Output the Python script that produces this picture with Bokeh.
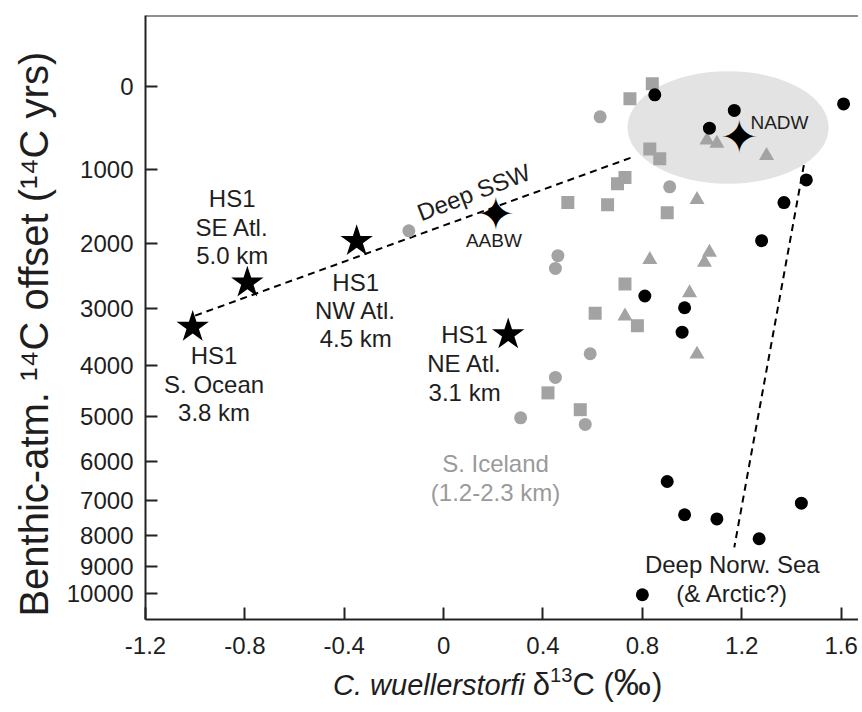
import numpy as np
from bokeh.plotting import figure
from bokeh.models import Range1d, FixedTicker, CustomJSTickFormatter, Span, Div
from bokeh.layouts import column
from bokeh.core.properties import value
from bokeh.embed import file_html
from bokeh.resources import INLINE

# ---------------- data (d13C in permil, benthic-atm 14C offset in 14C yrs) -------------
sq_d13c = [0.84, 0.75, 0.83, 0.87, 0.73, 0.70, 0.50, 0.66, 0.90, 0.73, 0.61, 0.78, 0.42, 0.55]
sq_offset = [-30, 140, 740, 860, 1100, 1180, 1430, 1460, 1570, 2610, 3080, 3290, 4520, 4860]

circ_d13c = [0.63, 0.91, -0.14, 0.46, 0.45, 0.59, 0.45, 0.31, 0.57]
circ_offset = [350, 1220, 1820, 2180, 2370, 3780, 4220, 5030, 5170]

tri_d13c = [1.06, 1.10, 1.30, 1.02, 0.83, 0.99, 0.73, 1.02, 1.07, 1.05]
tri_offset = [630, 670, 820, 1390, 2240, 2750, 3130, 3790, 2130, 2280]

norw_d13c = [0.85, 1.17, 1.61, 1.07, 1.46, 1.37, 1.28, 0.81, 0.97, 0.96, 0.90, 0.97, 1.10, 1.27, 1.44, 0.80]
norw_offset = [95, 275, 200, 485, 1130, 1430, 1960, 2800, 2990, 3400, 6500, 7390, 7510, 8100, 7070, 10050]

hs1_names = ["S. Ocean", "SE Atl.", "NW Atl.", "NE Atl."]
hs1_d13c = [-1.01, -0.79, -0.35, 0.26]
hs1_offset = [3310, 2590, 1970, 3440]

modern_names = ["AABW", "NADW"]
modern_d13c = [0.21, 1.19]
modern_offset = [1580, 590]

ssw_d13c = [-1.00, 0.76]
ssw_offset = [3120, 840]
norw_line_d13c = [1.45, 1.17]
norw_line_offset = [940, 8370]

nadw_field_d13c = 1.145
nadw_field_width = 0.81
nadw_field_offset = [-170, 1180]   # top / bottom of the shaded field

x_ticks = [-1.2, -0.8, -0.4, 0.0, 0.4, 0.8, 1.2, 1.6]
y_ticks = [0, 1000, 2000, 3000, 4000, 5000, 6000, 7000, 8000, 9000, 10000]

# ---------------- axis transform: linear in exp(-age/8033) ----------------
TAU = 8033.0


def u(t):
    return np.exp(-np.asarray(t, dtype=float) / TAU)


FONT = value("Liberation Sans")
GRAY = "#a3a3a3"
TXT = "#1e1e1e"

p = figure(width=858, height=664, output_backend="svg", toolbar_location=None,
           x_range=Range1d(-1.2, 1.670), y_range=Range1d(float(u(11090)), float(u(-763))),
           min_border_left=145, min_border_right=0, min_border_top=15, min_border_bottom=45)
p.grid.visible = False
p.outline_line_color = None
p.background_fill_color = "white"
p.border_fill_color = "white"

for ax in (p.xaxis[0], p.yaxis[0]):
    ax.axis_line_width = 2
    ax.axis_line_color = "#222222"
    ax.major_tick_line_width = 2
    ax.major_tick_line_color = "#222222"
    ax.major_tick_in = 12
    ax.major_tick_out = 0
    ax.minor_tick_in = 0
    ax.minor_tick_out = 0
    ax.major_label_text_font = "Liberation Sans"
    ax.major_label_text_font_size = "24px"
    ax.major_label_text_color = TXT

p.xaxis[0].ticker = FixedTicker(ticks=x_ticks)
p.xaxis[0].formatter = CustomJSTickFormatter(code="return Math.abs(tick) < 1e-9 ? '0' : tick.toFixed(1)")
p.xaxis[0].major_label_standoff = 17

p.yaxis[0].ticker = FixedTicker(ticks=[float(v) for v in u(y_ticks)])
p.yaxis[0].formatter = CustomJSTickFormatter(
    code="var t = Math.round(-%f*Math.log(tick)/1000)*1000; return (t === 0 ? 0 : t).toString();" % TAU)
p.yaxis[0].major_label_standoff = 12
p.yaxis[0].axis_label = "Benthic-atm. \u00b9\u2074C offset (\u00b9\u2074C yrs)\u00a0\u00a0\u00a0"
p.yaxis[0].axis_label_text_font = "Liberation Sans"
p.yaxis[0].axis_label_text_font_style = "normal"
p.yaxis[0].axis_label_text_font_size = "40px"
p.yaxis[0].axis_label_text_color = TXT
p.yaxis[0].axis_label_standoff = 8

p.add_layout(Span(location=float(u(-763)), dimension="width", line_color="#222222", line_width=2))

# NADW field
top_u, bot_u = u(nadw_field_offset[0]), u(nadw_field_offset[1])
p.ellipse(x=[nadw_field_d13c], y=[float((top_u + bot_u) / 2)], width=[nadw_field_width],
          height=[float(top_u - bot_u)], fill_color="#e3e3e3", line_color=None)

# mixing lines
p.line(ssw_d13c, u(ssw_offset), line_color="black", line_width=2, line_dash="7 5")
p.line(norw_line_d13c, u(norw_line_offset), line_color="black", line_width=2, line_dash="7 5")

# S. Iceland data
p.scatter(sq_d13c, u(sq_offset), marker="square", size=13, fill_color=GRAY, line_color=None)
p.scatter(circ_d13c, u(circ_offset), marker="circle", size=13, fill_color=GRAY, line_color=None)
p.scatter(tri_d13c, u(tri_offset), marker="triangle", size=15, fill_color=GRAY, line_color=None)

# Norwegian Sea data
p.scatter(norw_d13c, u(norw_offset), marker="circle", size=13, fill_color="black", line_color=None)

# HS1 stars
p.scatter(hs1_d13c, u(hs1_offset), marker="star", size=34, fill_color="black", line_color=None)

# modern end members (four-pointed star)
p.text(modern_d13c, u(modern_offset), text=["\u2726", "\u2726"], text_font=value("DejaVu Sans"),
       text_font_size="46px", text_align="center", text_baseline="middle", text_color="black")


def txt(x, t, s, size="24px", color=TXT, align="center", angle=0.0):
    p.text([x], [float(u(t))], text=[s], text_font=FONT, text_font_size=size,
           text_align=align, text_baseline="middle", text_color=color, angle=angle)


# HS1 labels
for x, ts, name, km in [(-0.851, (1379, 1769, 2177), hs1_names[1], "5.0 km"),
                         (-0.354, (2582, 3035, 3514), hs1_names[2], "4.5 km"),
                         (-0.924, (3812, 4356, 4912), hs1_names[0], "3.8 km"),
                         (0.0845, (3440, 3964, 4506), hs1_names[3], "3.1 km")]:
    txt(x, ts[0], "HS1")
    txt(x, ts[1], name)
    txt(x, ts[2], km)

txt(0.2025, 1958, modern_names[0], size="19px")
txt(1.352, 413, modern_names[1], size="19px")
txt(0.121, 1291, "Deep SSW", angle=np.deg2rad(21))
txt(0.209, 6049, "S. Iceland", color="#9a9a9a")
txt(0.209, 6776, "(1.2-2.3 km)", color="#9a9a9a")
txt(1.162, 8939, "Deep Norw. Sea")
txt(1.162, 9990, "(& Arctic?)")

# x-axis title (italic species name + delta notation)
xlabel = Div(
    text='<div style="padding-left:333px; font-family:\'Liberation Sans\'; font-size:29px; '
         'line-height:36px; color:#1e1e1e; white-space:nowrap;">'
         '<i>C. wuellerstorfi</i> <span style="font-size:31px;">&delta;<sup style="font-size:65%; '
         'vertical-align:0.65em; line-height:0;">13</sup>C (<span style="font-size:1.2em; '
         'letter-spacing:1px;">&permil;</span>)</span></div>',
    width=858, height=40, margin=0)

layout = column(p, xlabel, spacing=0)
open("out.html", "w").write(file_html(layout, INLINE))
